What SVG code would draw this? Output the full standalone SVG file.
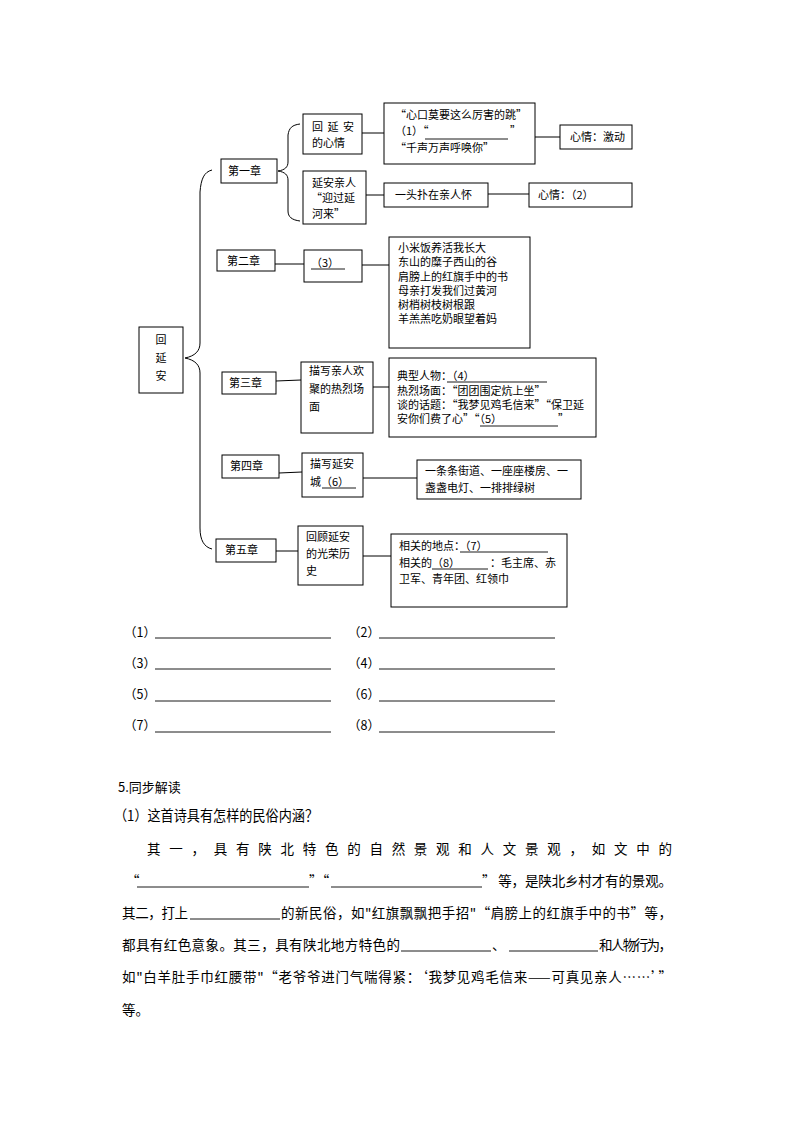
<svg xmlns="http://www.w3.org/2000/svg" width="794" height="1123" viewBox="0 0 794 1123">
<style>
text{font-family:"Noto Sans CJK SC","Liberation Sans",sans-serif;fill:#000}
.t{font-size:11px}
.b{fill:#fff;stroke:#000;stroke-width:1}
.l{stroke:#000;stroke-width:1;fill:none}
.u{stroke:#000;stroke-width:0.9}
.q{font-size:12.5px}
.p{font-size:13.5px}
</style>
<rect width="794" height="1123" fill="#fff"/>
<g id="connectors">
<path class="l" d="M212,170 C204,172 201,179 200,192 L200,343 C200,351 195,356 185,358 C195,360 200,365 200,373 L200,528 C200,540 204,547 212,549"/>
<path class="l" d="M300,124 C292,125 289,128 288,135 L288,162 C288,167 285,170 278,171 C285,172 288,175 288,180 L288,211 C288,217 292,220 300,221"/>
<line class="l" x1="362" y1="133" x2="384" y2="133"/>
<line class="l" x1="535" y1="137" x2="560" y2="137"/>
<line class="l" x1="366" y1="195" x2="384" y2="195"/>
<line class="l" x1="488" y1="194" x2="529" y2="194"/>
<line class="l" x1="275" y1="264" x2="304" y2="264"/>
<line class="l" x1="362" y1="265" x2="389" y2="265"/>
<line class="l" x1="276" y1="381" x2="301" y2="380"/>
<line class="l" x1="373" y1="387" x2="389" y2="387"/>
<line class="l" x1="279" y1="473" x2="302" y2="472"/>
<line class="l" x1="363" y1="478" x2="417" y2="478"/>
<line class="l" x1="276" y1="551" x2="298" y2="551"/>
<line class="l" x1="363" y1="556" x2="391" y2="556"/>
</g>
<g id="root"><rect class="b" x="139" y="327" width="44" height="66"/>
<text class="t" x="161" y="344" text-anchor="middle">回</text>
<text class="t" x="161" y="362" text-anchor="middle">延</text>
<text class="t" x="161" y="380" text-anchor="middle">安</text></g>
<g id="ch1"><rect class="b" x="221" y="159" width="56" height="24"/><text class="t" x="228" y="175">第一章</text></g>
<g id="ch1a"><rect class="b" x="303" y="114" width="59" height="40"/><text class="t" x="312" y="131" textLength="42" lengthAdjust="spacing">回 延 安</text><text class="t" x="312" y="147">的心情</text></g>
<g id="ch1b"><rect class="b" x="303" y="171" width="63" height="53"/><text class="t" x="312" y="187">延安亲人</text><text class="t" x="311" y="202">“迎过延</text><text class="t" x="312" y="218">河来”</text></g>
<g id="ch1a1"><rect class="b" x="384" y="103" width="151" height="61"/>
<text class="t" x="395" y="119">“心口莫要这么厉害的跳”</text>
<text class="t" x="395" y="135">（1）“</text><line class="u" x1="425" y1="139" x2="508" y2="139"/><text class="t" x="510" y="135">”</text>
<text class="t" x="395" y="152">“千声万声呼唤你”</text></g>
<g id="ch1a2"><rect class="b" x="560" y="125" width="72" height="24"/><text class="t" x="570" y="141">心情：激动</text></g>
<g id="ch1b1"><rect class="b" x="384" y="183" width="104" height="24"/><text class="t" x="395" y="199">一头扑在亲人怀</text></g>
<g id="ch1b2"><rect class="b" x="529" y="183" width="103" height="24"/><text class="t" x="538" y="199">心情：（2）</text></g>
<g id="ch2"><rect class="b" x="217" y="250" width="58" height="21"/><text class="t" x="227" y="265">第二章</text></g>
<g id="ch2a"><rect class="b" x="304" y="250" width="58" height="32"/><text class="t" x="311" y="267">（3）</text><line class="u" x1="311" y1="269" x2="345" y2="269"/></g>
<g id="ch2b"><rect class="b" x="389" y="237" width="141" height="111"/>
<text class="t" x="398" y="252">小米饭养活我长大</text>
<text class="t" x="398" y="266">东山的糜子西山的谷</text>
<text class="t" x="398" y="281">肩膀上的红旗手中的书</text>
<text class="t" x="398" y="295">母亲打发我们过黄河</text>
<text class="t" x="398" y="309">树梢树枝树根跟</text>
<text class="t" x="398" y="323">羊羔羔吃奶眼望着妈</text></g>
<g id="ch3"><rect class="b" x="222" y="372" width="54" height="22"/><text class="t" x="229" y="387">第三章</text></g>
<g id="ch3a"><rect class="b" x="301" y="362" width="72" height="71"/>
<text class="t" x="309" y="375">描写亲人欢</text><text class="t" x="309" y="393">聚的热烈场</text><text class="t" x="309" y="411">面</text></g>
<g id="ch3b"><rect class="b" x="389" y="358" width="207" height="79"/>
<text class="t" x="397" y="380">典型人物：（4）</text><line class="u" x1="447" y1="382" x2="547" y2="382"/>
<text class="t" x="397" y="395">热烈场面：“团团围定炕上坐”</text>
<text class="t" x="397" y="409">谈的话题：“我梦见鸡毛信来”“保卫延</text>
<text class="t" x="397" y="423">安你们费了心”“（5）</text><line class="u" x1="480" y1="426" x2="558" y2="426"/><text class="t" x="558" y="423">”</text></g>
<g id="ch4"><rect class="b" x="222" y="455" width="57" height="23"/><text class="t" x="230" y="470">第四章</text></g>
<g id="ch4a"><rect class="b" x="302" y="453" width="61" height="44"/><text class="t" x="310" y="468">描写延安</text><text class="t" x="310" y="486">城（6）</text><line class="u" x1="322" y1="488" x2="356" y2="488"/></g>
<g id="ch4b"><rect class="b" x="417" y="460" width="164" height="39"/><text class="t" x="425" y="475">一条条街道、一座座楼房、一</text><text class="t" x="425" y="492">盏盏电灯、一排排绿树</text></g>
<g id="ch5"><rect class="b" x="216" y="539" width="60" height="23"/><text class="t" x="225" y="554">第五章</text></g>
<g id="ch5a"><rect class="b" x="298" y="526" width="65" height="59"/><text class="t" x="306" y="541">回顾延安</text><text class="t" x="306" y="558">的光荣历</text><text class="t" x="306" y="575">史</text></g>
<g id="ch5b"><rect class="b" x="391" y="534" width="176" height="73"/>
<text class="t" x="399" y="550">相关的地点：（7）</text><line class="u" x1="460" y1="552" x2="548" y2="552"/>
<text class="t" x="399" y="567">相关的（8）</text><line class="u" x1="432" y1="569" x2="488" y2="569"/><text class="t" x="490" y="567">：毛主席、赤</text>
<text class="t" x="399" y="583">卫军、青年团、红领巾</text></g>
<g id="blanks">
<text class="q" x="124" y="637">（1）</text><line class="u" x1="155" y1="638" x2="331" y2="638"/>
<text class="q" x="348" y="637">（2）</text><line class="u" x1="379" y1="638" x2="555" y2="638"/>
<text class="q" x="124" y="668">（3）</text><line class="u" x1="155" y1="669" x2="331" y2="669"/>
<text class="q" x="348" y="668">（4）</text><line class="u" x1="379" y1="669" x2="555" y2="669"/>
<text class="q" x="124" y="699">（5）</text><line class="u" x1="155" y1="701" x2="331" y2="701"/>
<text class="q" x="348" y="699">（6）</text><line class="u" x1="379" y1="701" x2="555" y2="701"/>
<text class="q" x="124" y="730">（7）</text><line class="u" x1="155" y1="732" x2="331" y2="732"/>
<text class="q" x="348" y="730">（8）</text><line class="u" x1="379" y1="732" x2="555" y2="732"/>
</g>
<g id="section">
<text x="118" y="792" style="font-size:13px">5.同步解读</text>
<text x="114" y="821" style="font-size:14.5px" textLength="204" lengthAdjust="spacingAndGlyphs">（1）这首诗具有怎样的民俗内涵？</text>
<text class="p" x="147" y="854" textLength="525" lengthAdjust="spacing">其一，具有陕北特色的自然景观和人文景观，如文中的</text>
<text class="p" x="126" y="886">“</text><line class="u" x1="137" y1="887" x2="309" y2="887"/>
<text class="p" x="309" y="886">”“</text><line class="u" x1="331" y1="887" x2="482" y2="887"/>
<text class="p" x="482" y="886" textLength="190" lengthAdjust="spacing">” 等，是陕北乡村才有的景观。</text>
<text class="p" x="122" y="918" textLength="66" lengthAdjust="spacing">其二，打上</text><line class="u" x1="190" y1="919" x2="280" y2="919"/>
<text class="p" x="281" y="918" textLength="391" lengthAdjust="spacing">的新民俗，如"红旗飘飘把手招"“肩膀上的红旗手中的书”等，</text>
<text class="p" x="122" y="950" textLength="278" lengthAdjust="spacing">都具有红色意象。其三，具有陕北地方特色的</text><line class="u" x1="401" y1="951" x2="491" y2="951"/>
<text class="p" x="492" y="950">、</text><line class="u" x1="509" y1="951" x2="598" y2="951"/>
<text class="p" x="599" y="950" textLength="73" lengthAdjust="spacing">和人物行为，</text>
<text class="p" x="122" y="982" textLength="550" lengthAdjust="spacing">如"白羊肚手巾红腰带"“老爷爷进门气喘得紧：‘我梦见鸡毛信来——可真见亲人……’”</text>
<text class="p" x="122" y="1015">等。</text>
</g>
</svg>
